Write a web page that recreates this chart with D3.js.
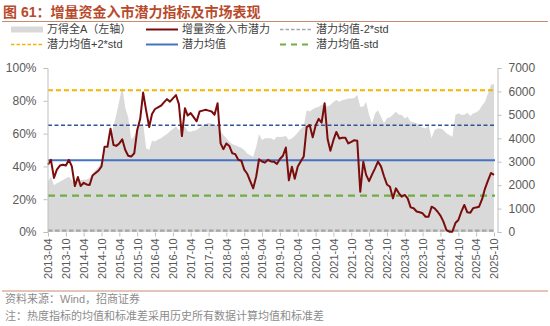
<!DOCTYPE html>
<html><head><meta charset="utf-8">
<script src="https://cdn.jsdelivr.net/npm/d3@7"></script>
<style>
body{margin:0;background:#fff;}
text{font-family:"Liberation Sans","Noto Sans CJK SC",sans-serif;}
</style></head>
<body><svg id="c" width="550" height="326"></svg>
<script>
const startMonth = "2013-04";
const indexValues = [2150,2360,2000,2080,2140,2220,2290,2360,2220,2050,2150,2220,2230,2240,2300,2500,2650,2790,3000,3500,
3600,4000,4500,5000,5600,6200,5300,4900,3950,4100,4450,4550,4640,3570,3500,3900,3860,3950,4000,4100,
4180,4300,4400,4500,4350,4420,4500,4300,4280,4320,4350,4450,4550,4610,4660,4620,4560,4600,4300,4140,
4000,3860,3750,3700,3640,3600,3500,3350,3280,3215,3640,4180,3930,4000,4000,4000,3930,4070,4050,4070,
4100,3930,4000,4100,4250,4400,4500,5200,5140,5240,5300,5350,5420,5490,5350,5420,5550,5630,5560,5620,
5660,5700,5700,5720,5850,5350,5350,5560,5000,4640,5060,5200,4920,4640,4850,4900,5000,5130,5000,4990,
4850,4920,4710,4680,4640,4500,4460,4420,4560,4000,4350,4420,4420,4350,4220,4140,4070,4990,5070,5000,
5000,5090,4950,5060,5100,5200,5400,5560,5920,6280,6320];
const potential = [41,44,33,38,40.5,41,40.5,44,40,28,33.5,28,30,29,28.7,34.5,36,37.5,40,52,
52,63,53,52.5,54,56.5,50,46.5,46,48,62,69,85,74,64,72,75,76,77,79,
81,79.5,81.5,83.5,78,58.5,75.5,71,72.5,70,67.5,73.5,74,74.5,74,73.5,71.5,78.5,54,50.5,
54,52.5,48,47.5,44,43.5,38,35.5,31,26.6,34,44.3,43,42.3,44,43,42.9,41.5,44.5,46.5,
51.5,31.5,39.8,32.5,40,43,46,64,65.2,57.7,65,69,66.7,78.5,56.5,49.5,56,61,57,57.5,
57.5,54,55,56,55.7,24.6,42.9,35,31,35,38.8,42.9,40,34,29,27.6,20.5,26.6,23.6,21.5,
22.6,20.5,15,14.5,12.5,12,11.4,9.3,9.3,15.4,14.4,12.5,10,6.3,1.2,0.2,0.2,5.5,7.3,12.4,
16.5,12,11.8,14.5,15,15.4,20,26.5,31.5,36,34.8];
const levelNames = ["潜力均值+2*std","潜力均值+std","潜力均值","潜力均值-std","潜力均值-2*std"];
const levelValues = [86.5,65.1,43.7,22.2,0.8];
const xTickLabels = ["2013-04","2013-10","2014-04","2014-10","2015-04","2015-10","2016-04","2016-10","2017-04","2017-10",
"2018-04","2018-10","2019-04","2019-10","2020-04","2020-10","2021-04","2021-10","2022-04","2022-10",
"2023-04","2023-10","2024-04","2024-10","2025-04","2025-10"];
const leftTicks = [0,20,40,60,80,100];
const rightTicks = [0,1000,2000,3000,4000,5000,6000,7000];

const parse = d3.timeParse("%Y-%m");
const t0 = parse(startMonth);
const dates = indexValues.map((_, i) => d3.timeMonth.offset(t0, i));
const svg = d3.select("#c");

const x = d3.scaleTime().domain([parse("2013-04"), parse("2025-10")]).range([48, 494]);
const yL = d3.scaleLinear().domain([0, 100]).range([232, 68]);
const yR = d3.scaleLinear().domain([0, 7000]).range([232, 68]);

// title
svg.append("text").attr("x", 3).attr("y", 17).attr("fill", "#b84a2c")
  .attr("font-size", 14).attr("font-weight", "bold").text("图 61：增量资金入市潜力指标及市场表现");
svg.append("line").attr("x1", 2).attr("x2", 548).attr("y1", 21.5).attr("y2", 21.5)
  .attr("stroke", "#c98a70").attr("stroke-width", 1);

// area
const area = d3.area().x((d, i) => x(dates[i])).y0(yR(0)).y1(d => yR(d));
svg.append("path").datum(indexValues).attr("d", area).attr("fill", "#d9d9d9");

// levels
const levelStyles = [
  {c:"#f5b400", w:2, dash:"5,3"},
  {c:"#2f5597", w:1.5, dash:"4,2.5"},
  {c:"#4472c4", w:2, dash:null},
  {c:"#70ad47", w:2.2, dash:"7,5"},
  {c:"#a6a6a6", w:2.2, dash:"4.5,2.5"}
];
levelValues.forEach((v, i) => {
  const s = levelStyles[i];
  svg.append("line").attr("x1", 48).attr("x2", 495).attr("y1", yL(v)).attr("y2", yL(v))
    .attr("stroke", s.c).attr("stroke-width", s.w).attr("stroke-dasharray", s.dash);
});

// potential line
const line = d3.line().x((d, i) => x(dates[i])).y(d => yL(d));
svg.append("path").datum(potential).attr("d", line).attr("fill", "none")
  .attr("stroke", "#7b0c0c").attr("stroke-width", 2).attr("stroke-linejoin", "round");

// axes
const axisColor = "#bfbfbf", labelColor = "#595959";
const gL = svg.append("g").attr("transform", "translate(47.5,0)")
  .call(d3.axisLeft(yL).tickValues(leftTicks).tickFormat(d => d + "%").tickSize(4).tickPadding(7));
const gR = svg.append("g").attr("transform", "translate(497.5,0)")
  .call(d3.axisRight(yR).tickValues(rightTicks).tickFormat(d3.format("d")).tickSize(4).tickPadding(7));
const gX = svg.append("g").attr("transform", "translate(0,232.5)")
  .call(d3.axisBottom(x).tickValues(xTickLabels.map(parse)).tickFormat(d3.timeFormat("%Y-%m")).tickSize(4).tickSizeOuter(0));
[gL, gR, gX].forEach(g => {
  g.select(".domain").attr("stroke", axisColor);
  g.selectAll(".tick line").attr("stroke", axisColor);
  g.selectAll("text").attr("fill", labelColor).attr("font-size", 12)
    .attr("font-family", "Liberation Sans, Arial, sans-serif");
});
gX.select(".domain").remove();
gX.selectAll("text").attr("font-size", 11).attr("transform", "rotate(-90)")
  .attr("text-anchor", "end").attr("dy", "0.35em").attr("x", -6).attr("y", 0);

// legend
const legend = [
  {t:"万得全A（左轴）", type:"rect", c:"#d9d9d9", col:0, row:0},
  {t:"增量资金入市潜力", type:"line", c:"#7b0c0c", w:2, dash:null, col:1, row:0},
  {t:"潜力均值-2*std", type:"line", c:"#a6a6a6", w:1.5, dash:"3.5,2", col:2, row:0},
  {t:"潜力均值+2*std", type:"line", c:"#f5b400", w:1.5, dash:"3.5,2", col:0, row:1},
  {t:"潜力均值", type:"line", c:"#4472c4", w:2, dash:null, col:1, row:1},
  {t:"潜力均值-std", type:"line", c:"#70ad47", w:2, dash:"6,5", col:2, row:1}
];
const colX = [11, 146, 280], rowY = [29.5, 44.5];
legend.forEach(d => {
  const lx = colX[d.col], ly = rowY[d.row];
  if (d.type === "rect") {
    svg.append("rect").attr("x", lx).attr("y", ly - 3).attr("width", 32).attr("height", 6).attr("fill", d.c);
  } else {
    svg.append("line").attr("x1", lx).attr("x2", lx + 32).attr("y1", ly).attr("y2", ly)
      .attr("stroke", d.c).attr("stroke-width", d.w).attr("stroke-dasharray", d.dash);
  }
  svg.append("text").attr("x", lx + 36).attr("y", ly).attr("dy", "0.36em")
    .attr("font-size", 11).attr("fill", "#404040").text(d.t);
});

// footer
svg.append("line").attr("x1", 2).attr("x2", 548).attr("y1", 291).attr("y2", 291)
  .attr("stroke", "#c98a70").attr("stroke-width", 1);
svg.append("text").attr("x", 5).attr("y", 303).attr("font-size", 11).attr("fill", "#8c8c8c")
  .text("资料来源：Wind，招商证券");
svg.append("text").attr("x", 5).attr("y", 320).attr("font-size", 11).attr("fill", "#8c8c8c")
  .text("注：热度指标的均值和标准差采用历史所有数据计算均值和标准差");
</script></body></html>
